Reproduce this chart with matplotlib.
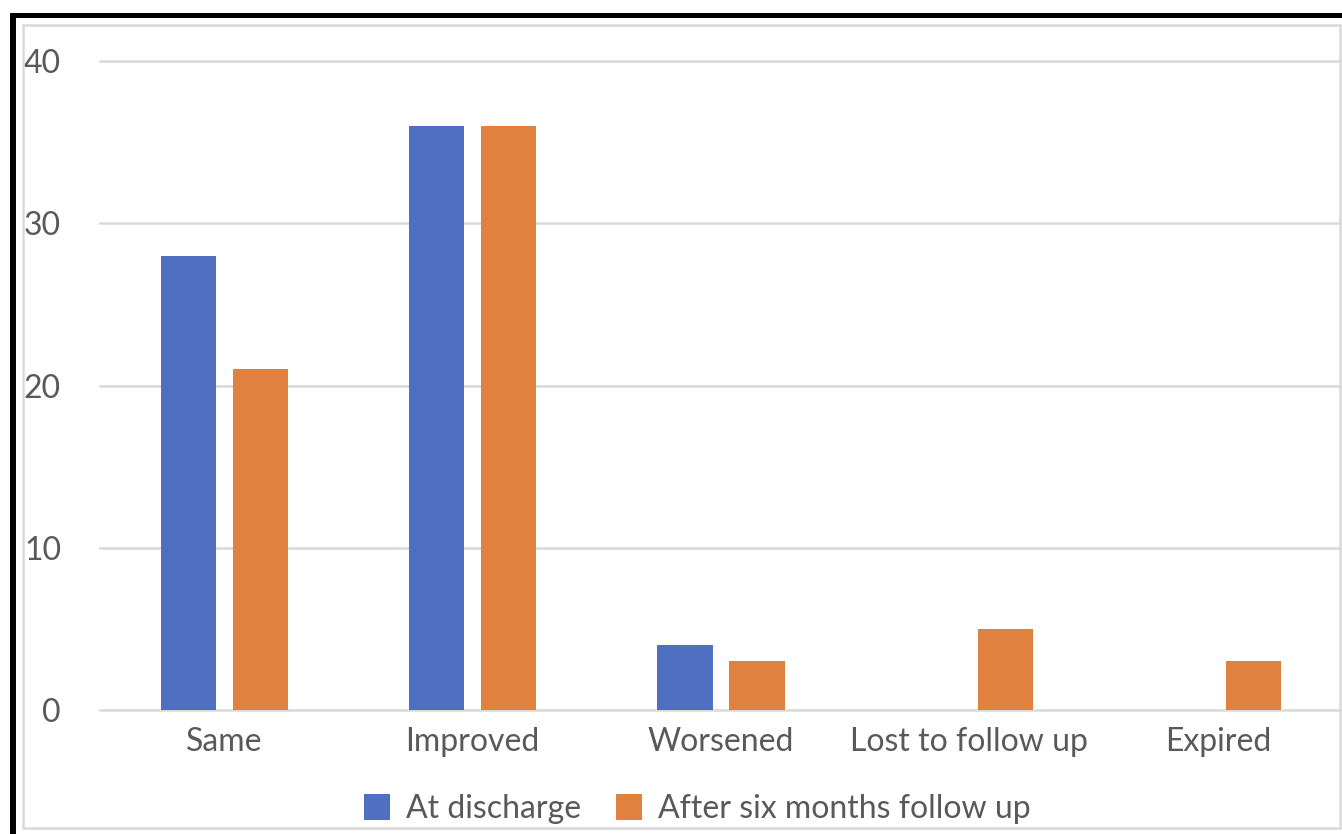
import matplotlib
matplotlib.use("Agg")
import matplotlib.pyplot as plt
import numpy as np
from matplotlib.patches import Rectangle

categories = ["Same", "Improved", "Worsened", "Lost to follow up", "Expired"]
at_discharge = [28, 36, 4, 0, 0]
after_six_months = [21, 36, 3, 5, 3]
series_labels = ["At discharge", "After six months follow up"]
yticks = [0, 10, 20, 30, 40]

orange = "#E0813F"
blue = "#4F70C0"
text_grey = "#595959"
grid_grey = "#D9D9D9"

W, H = 1342, 834
fig = plt.figure(figsize=(W / 100, H / 100), dpi=100)
plt.rcParams["font.family"] = ["Lato", "DejaVu Sans"]

# outer black frame (top and left) and inner light frame
fig.add_artist(Rectangle((10 / W, 0), 6 / W, (H - 13) / H, transform=fig.transFigure,
                         facecolor="black", edgecolor="none"))
fig.add_artist(Rectangle((10 / W, (H - 18) / H), (W - 10) / W, 5 / H, transform=fig.transFigure,
                         facecolor="black", edgecolor="none"))
fig.add_artist(Rectangle((23 / W, (H - 828) / H), (1340 - 23) / W, (828 - 25) / H,
                         transform=fig.transFigure, facecolor="none",
                         edgecolor=grid_grey, linewidth=1.8))

ax_left, ax_right = 100, 1342
ax_top, ax_bot = 61, 710
ax = fig.add_axes([ax_left / W, (H - ax_bot) / H, (ax_right - ax_left) / W, (ax_bot - ax_top) / H])

x = np.arange(len(categories))
width = 0.222
offset = 0.145
ax.bar(x - offset, at_discharge, width, color=blue, label=series_labels[0], zorder=3)
ax.bar(x + offset, after_six_months, width, color=orange, label=series_labels[1], zorder=3)

ax.set_xlim(-0.5, len(categories) - 0.5)
ax.set_ylim(0, 40)
ax.set_yticks(yticks)
ax.set_yticklabels([str(v) for v in yticks])
ax.set_xticks(x)
ax.set_xticklabels(categories)
for v in yticks:
    ax.axhline(v, color=grid_grey, linewidth=1.8, zorder=1, clip_on=False)
for s in ax.spines.values():
    s.set_visible(False)
ax.tick_params(axis="both", length=0, labelsize=23, colors=text_grey)
ax.tick_params(axis="y", pad=28)
ax.tick_params(axis="x", pad=12)
ax.set_facecolor("none")

leg = fig.legend(loc="center", bbox_to_anchor=(697 / W, (H - 809) / H), ncol=2, frameon=False,
                 fontsize=23, labelcolor=text_grey, handlelength=0.81, handleheight=0.88,
                 handletextpad=0.5, columnspacing=1.1)

fig.savefig("out.png", dpi=100, facecolor="white")
